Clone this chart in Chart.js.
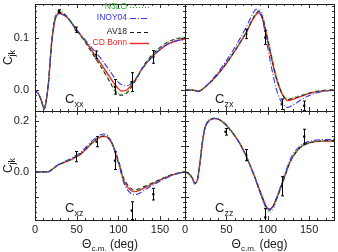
<!DOCTYPE html>
<html>
<head>
<meta charset="utf-8">
<script src="https://cdn.jsdelivr.net/npm/chart.js"></script>
<style>
  html, body { margin: 0; padding: 0; background: #fff; }
  #wrap { position: relative; width: 338px; height: 252px; }
  #wrap canvas { position: absolute; left: 0; top: 0; }
</style>
</head>
<body>
<div id="wrap">
  <canvas id="cxx" width="338" height="252"></canvas>
  <canvas id="czx" width="338" height="252"></canvas>
  <canvas id="cxz" width="338" height="252"></canvas>
  <canvas id="czz" width="338" height="252"></canvas>
</div>

<script>
  // theory curves, order: N3LO, INOY04, AV18, CD Bonn
  const models = ['N3LO', 'INOY04', 'AV18', 'CD Bonn'];

  // x tick labels (deg) and y tick labels
  const xTickLabels = [0, 50, 100, 150];
  const yTickLabelsTop = [0.0, 0.1];
  const yTickLabelsBottom = [0.0, 0.2];

  // ---- Cxx ----
  const angXX = [0, 5, 8, 11, 13, 16, 20, 24, 29, 34, 40, 50, 60, 70, 80, 90, 97, 104, 110, 118, 130, 140, 150, 160, 170, 180];
  const xxN3LO  = [0, -0.010, -0.022, -0.036, -0.024, 0.013, 0.094, 0.140, 0.152, 0.148, 0.138, 0.114, 0.092, 0.068, 0.043, 0.016, -0.002, -0.008, -0.004, 0.012, 0.044, 0.065, 0.080, 0.091, 0.098, 0.101];
  const xxINOY  = [0, -0.010, -0.022, -0.036, -0.025, 0.010, 0.088, 0.133, 0.145, 0.143, 0.136, 0.115, 0.096, 0.077, 0.058, 0.036, 0.020, 0.010, 0.008, 0.016, 0.043, 0.062, 0.077, 0.088, 0.094, 0.096];
  const xxAV18  = [0, -0.010, -0.022, -0.036, -0.024, 0.012, 0.092, 0.137, 0.148, 0.146, 0.137, 0.114, 0.092, 0.067, 0.042, 0.015, -0.004, -0.010, -0.006, 0.011, 0.045, 0.066, 0.081, 0.092, 0.098, 0.100];
  const xxBonn  = [0, -0.010, -0.022, -0.036, -0.025, 0.011, 0.090, 0.134, 0.146, 0.144, 0.136, 0.114, 0.094, 0.071, 0.048, 0.024, 0.008, -0.002, 0.000, 0.014, 0.044, 0.063, 0.077, 0.088, 0.094, 0.097];
  const expAngXX = [29, 49, 73, 96, 116, 142];
  const expValXX = [0.150, 0.115, 0.067, 0.006, 0.015, 0.063];
  const expErrXX = [0.003, 0.005, 0.0075, 0.014, 0.018, 0.012];

  // ---- Czx ----
  const angZX = [0, 8, 16, 26, 38, 50, 62, 74, 82, 86, 89, 92, 95, 98, 101, 104, 110, 114, 118, 124, 132, 142, 154, 166, 180];
  const zxN3LO  = [0, 0, -0.002, 0.008, 0.027, 0.051, 0.079, 0.111, 0.137, 0.148, 0.153, 0.150, 0.137, 0.116, 0.094, 0.071, 0.030, 0.010, -0.006, -0.016, -0.014, -0.009, -0.004, -0.001, 0];
  const zxINOY  = [0, 0, -0.003, 0.009, 0.030, 0.056, 0.086, 0.120, 0.146, 0.154, 0.153, 0.142, 0.124, 0.098, 0.072, 0.047, 0.004, -0.015, -0.026, -0.033, -0.027, -0.017, -0.008, -0.003, 0];
  const zxAV18  = [0, 0, -0.002, 0.008, 0.027, 0.051, 0.079, 0.110, 0.136, 0.146, 0.150, 0.146, 0.132, 0.111, 0.089, 0.067, 0.026, 0.006, -0.009, -0.018, -0.015, -0.010, -0.004, -0.001, 0];
  const zxBonn  = [0, 0, -0.002, 0.008, 0.027, 0.051, 0.079, 0.110, 0.135, 0.144, 0.147, 0.143, 0.128, 0.107, 0.086, 0.064, 0.024, 0.005, -0.010, -0.020, -0.017, -0.011, -0.005, -0.002, 0];
  const expAngZX = [74, 97, 117, 144];
  const expValZX = [0.107, 0.100, -0.027, -0.030];
  const expErrZX = [0.009, 0.013, 0.010, 0.009];

  // ---- Cxz ----
  const angXZ = [0, 10, 16, 22, 28, 35, 42, 50, 56, 62, 68, 74, 78, 82, 86, 90, 94, 98, 102, 106, 110, 114, 118, 122, 126, 132, 138, 146, 154, 162, 170, 180];
  const xzN3LO  = [0, 0, 0, 0.013, 0.027, 0.037, 0.047, 0.061, 0.074, 0.093, 0.113, 0.130, 0.138, 0.142, 0.140, 0.127, 0.103, 0.065, 0.022, -0.027, -0.053, -0.069, -0.077, -0.076, -0.071, -0.061, -0.051, -0.038, -0.025, -0.014, -0.006, 0];
  const xzINOY  = [0, 0, 0, 0.014, 0.029, 0.040, 0.051, 0.066, 0.080, 0.100, 0.120, 0.137, 0.145, 0.149, 0.146, 0.130, 0.101, 0.058, 0.012, -0.038, -0.066, -0.082, -0.090, -0.089, -0.083, -0.071, -0.059, -0.044, -0.030, -0.018, -0.008, 0];
  const xzAV18  = [0, 0, 0, 0.014, 0.028, 0.038, 0.048, 0.062, 0.075, 0.094, 0.114, 0.130, 0.138, 0.141, 0.139, 0.126, 0.102, 0.065, 0.024, -0.022, -0.046, -0.062, -0.070, -0.070, -0.066, -0.057, -0.048, -0.036, -0.024, -0.014, -0.006, 0];
  const xzBonn  = [0, 0, 0, 0.013, 0.027, 0.037, 0.046, 0.060, 0.073, 0.092, 0.112, 0.128, 0.136, 0.140, 0.138, 0.124, 0.099, 0.060, 0.018, -0.030, -0.055, -0.070, -0.078, -0.077, -0.072, -0.062, -0.052, -0.039, -0.026, -0.015, -0.007, 0];
  const expAngXZ = [49, 74, 96, 116, 142];
  const expValXZ = [0.060, 0.119, 0.044, -0.153, -0.088];
  const expErrXZ = [0.020, 0.020, 0.035, 0.035, 0.023];

  // ---- Czz ----
  const angZZ = [0, 5, 9, 12, 15, 18, 21, 24, 28, 32, 36, 42, 48, 54, 60, 66, 72, 78, 84, 90, 94, 98, 102, 106, 110, 114, 118, 122, 126, 130, 136, 142, 150, 158, 166, 180];
  const zzN3LO  = [0, -0.008, -0.025, -0.045, -0.028, 0.040, 0.120, 0.176, 0.201, 0.210, 0.212, 0.206, 0.191, 0.169, 0.143, 0.112, 0.074, 0.030, -0.020, -0.078, -0.115, -0.148, -0.160, -0.150, -0.118, -0.080, -0.042, -0.004, 0.031, 0.058, 0.086, 0.104, 0.115, 0.120, 0.121, 0.122];
  const zzINOY  = [0, -0.009, -0.028, -0.050, -0.034, 0.030, 0.112, 0.170, 0.198, 0.209, 0.211, 0.206, 0.192, 0.170, 0.144, 0.113, 0.075, 0.030, -0.020, -0.076, -0.110, -0.140, -0.148, -0.136, -0.106, -0.071, -0.033, 0.005, 0.040, 0.067, 0.093, 0.110, 0.120, 0.125, 0.127, 0.128];
  const zzAV18  = [0, -0.008, -0.026, -0.046, -0.030, 0.036, 0.116, 0.173, 0.199, 0.209, 0.211, 0.205, 0.190, 0.168, 0.143, 0.113, 0.075, 0.030, -0.018, -0.073, -0.108, -0.140, -0.151, -0.141, -0.112, -0.078, -0.041, -0.004, 0.031, 0.058, 0.085, 0.103, 0.114, 0.120, 0.122, 0.123];
  const zzBonn  = [0, -0.008, -0.025, -0.045, -0.030, 0.035, 0.115, 0.172, 0.198, 0.208, 0.210, 0.205, 0.190, 0.168, 0.143, 0.113, 0.076, 0.030, -0.017, -0.070, -0.104, -0.136, -0.147, -0.138, -0.110, -0.077, -0.040, -0.003, 0.032, 0.058, 0.085, 0.103, 0.114, 0.119, 0.121, 0.122];
  const expAngZZ = [49, 74, 97, 117, 144];
  const expValZZ = [0.158, 0.066, -0.180, -0.057, 0.139];
  const expErrZZ = [0.013, 0.022, 0.035, 0.038, 0.029];

  // styles
  const lineColors = ['#2db02d', '#3434ee', '#1a1a1a', '#f02424'];
  const lineDash = [[1, 2], [6, 2, 1, 2], [4, 3], []];
  const lineWidth = [1.1, 1.1, 1.1, 1.4];
  const font = '"Liberation Sans", Arial, sans-serif';

  function drawSub(ctx, main, sub, x, y, size, align) {
    ctx.font = size + 'px ' + font;
    const w1 = ctx.measureText(main).width;
    ctx.font = Math.round(size * 0.72) + 'px ' + font;
    const w2 = ctx.measureText(sub).width;
    let x0 = x;
    if (align === 'center') x0 = x - (w1 + w2) / 2;
    ctx.textAlign = 'left';
    ctx.textBaseline = 'alphabetic';
    ctx.font = size + 'px ' + font;
    ctx.fillText(main, x0, y);
    ctx.font = Math.round(size * 0.72) + 'px ' + font;
    ctx.fillText(sub, x0 + w1, y + size * 0.28);
    return x0 + w1 + w2;
  }

  function panelPlugin(p) {
    return {
      id: 'panel_' + p.name,
      afterDatasetsDraw(chart) {
        const { ctx, chartArea: a, scales: { x, y } } = chart;
        ctx.save();
        ctx.beginPath();
        ctx.rect(a.left, a.top, a.right - a.left, a.bottom - a.top);
        ctx.clip();
        ctx.strokeStyle = '#000';
        ctx.lineWidth = 1;
        ctx.beginPath();
        p.expAng.forEach((ang, i) => {
          const px = Math.round(x.getPixelForValue(ang)) + 0.5;
          const y1 = y.getPixelForValue(p.expVal[i] + p.expErr[i]);
          const y2 = y.getPixelForValue(p.expVal[i] - p.expErr[i]);
          ctx.moveTo(px, y1); ctx.lineTo(px, y2);
          ctx.moveTo(px - 1.5, y1); ctx.lineTo(px + 1.5, y1);
          ctx.moveTo(px - 1.5, y2); ctx.lineTo(px + 1.5, y2);
        });
        ctx.stroke();
        ctx.restore();
      },
      afterDraw(chart) {
        const { ctx, chartArea: a, scales: { x, y } } = chart;
        ctx.save();
        ctx.strokeStyle = '#333';
        ctx.lineWidth = 1;
        ctx.beginPath();
        for (let v = 0; v <= 180; v += 10) {
          const px = Math.round(x.getPixelForValue(v)) + 0.5;
          const len = v % 50 === 0 ? 4 : 2;
          ctx.moveTo(px, a.bottom); ctx.lineTo(px, a.bottom - len);
          ctx.moveTo(px, a.top); ctx.lineTo(px, a.top + len);
        }
        const k0 = Math.ceil(p.yMin / p.yMinor - 1e-6);
        const k1 = Math.floor(p.yMax / p.yMinor + 1e-6);
        for (let k = k0; k <= k1; k++) {
          const v = k * p.yMinor;
          const py = Math.round(y.getPixelForValue(v)) + 0.5;
          const major = Math.abs(v / 0.1 - Math.round(v / 0.1)) < 1e-6;
          const len = major ? 4 : 2;
          ctx.moveTo(a.left, py); ctx.lineTo(a.left + len, py);
          ctx.moveTo(a.right, py); ctx.lineTo(a.right - len, py);
        }
        ctx.stroke();
        ctx.strokeStyle = '#222';
        ctx.strokeRect(a.left + 0.5, a.top + 0.5, a.right - a.left, a.bottom - a.top);

        ctx.fillStyle = '#222';
        // y tick labels and title on the left column
        if (p.yLabels) {
          ctx.font = '11px ' + font;
          ctx.textAlign = 'right';
          ctx.textBaseline = 'middle';
          p.yLabels.forEach(v => ctx.fillText(v.toFixed(1), 29, y.getPixelForValue(v)));
          ctx.save();
          ctx.translate(12, (a.top + a.bottom) / 2);
          ctx.rotate(-Math.PI / 2);
          drawSub(ctx, 'C', 'jk', 0, 0, 12, 'center');
          ctx.restore();
        }
        // x tick labels and title on the bottom row
        if (p.xLabels) {
          ctx.font = '11px ' + font;
          ctx.textAlign = 'center';
          ctx.textBaseline = 'middle';
          p.xLabels.forEach(v => ctx.fillText(String(v), x.getPixelForValue(v), 230));
          const cx = (a.left + a.right) / 2;
          ctx.font = '12px ' + font;
          const wT = ctx.measureText('\u0398').width;
          const wR = ctx.measureText(' (deg)').width;
          ctx.font = '8px ' + font;
          const wS = ctx.measureText('c.m.').width;
          let x0 = cx - (wT + wS + wR) / 2;
          ctx.textAlign = 'left';
          ctx.textBaseline = 'alphabetic';
          ctx.font = '12px ' + font;
          ctx.fillText('\u0398', x0, 248);
          ctx.font = '8px ' + font;
          ctx.fillText('c.m.', x0 + wT, 251);
          ctx.font = '12px ' + font;
          ctx.fillText(' (deg)', x0 + wT + wS, 248);
        }
        // panel label
        drawSub(ctx, 'C', p.sub, a.left + 30, a.bottom - 8, 13, 'left');

        // legend (top-left panel only)
        if (p.legend) {
          ctx.font = '8.5px ' + font;
          ctx.textAlign = 'right';
          ctx.textBaseline = 'middle';
          const rows = [6.5, 18, 32, 43];
          models.forEach((m, i) => {
            ctx.fillStyle = lineColors[i];
            ctx.fillText(m, 127, rows[i]);
            ctx.strokeStyle = lineColors[i];
            ctx.lineWidth = lineWidth[i];
            ctx.setLineDash(lineDash[i]);
            ctx.beginPath();
            ctx.moveTo(130, Math.round(rows[i]) + 0.5);
            ctx.lineTo(149, Math.round(rows[i]) + 0.5);
            ctx.stroke();
          });
          ctx.setLineDash([]);
        }
        ctx.restore();
      }
    };
  }

  function makePanel(id, p) {
    const datasets = p.curves.map((vals, m) => ({
      label: models[m],
      data: p.ang.map((ang, i) => ({ x: ang, y: vals[i] })),
      borderColor: lineColors[m],
      borderWidth: lineWidth[m],
      borderDash: lineDash[m],
      pointRadius: 0,
      cubicInterpolationMode: 'monotone',
      fill: false,
      clip: 0
    }));
    datasets.push({
      label: 'data',
      data: p.expAng.map((ang, i) => ({ x: ang, y: p.expVal[i] })),
      showLine: false,
      pointStyle: 'rect',
      pointRadius: 1.6,
      backgroundColor: '#000',
      borderColor: '#000',
      borderWidth: 0,
      clip: 0
    });
    new Chart(document.getElementById(id), {
      type: 'line',
      data: { datasets },
      options: {
        responsive: false,
        animation: false,
        devicePixelRatio: 1,
        events: [],
        layout: { padding: { left: p.box[0], top: p.box[1], right: 338 - p.box[2], bottom: 252 - p.box[3] } },
        scales: {
          x: { type: 'linear', min: 0, max: 180, display: false },
          y: { type: 'linear', min: p.yMin, max: p.yMax, display: false }
        },
        plugins: { legend: { display: false }, tooltip: { enabled: false } }
      },
      plugins: [panelPlugin(p)]
    });
  }

  makePanel('cxx', {
    name: 'xx', sub: 'xx', box: [35, 1, 185, 111], yMin: -0.04, yMax: 0.164, yMinor: 0.01,
    ang: angXX, curves: [xxN3LO, xxINOY, xxAV18, xxBonn],
    expAng: expAngXX, expVal: expValXX, expErr: expErrXX,
    yLabels: yTickLabelsTop, legend: true
  });
  makePanel('czx', {
    name: 'zx', sub: 'zx', box: [185, 1, 335, 111], yMin: -0.04, yMax: 0.164, yMinor: 0.01,
    ang: angZX, curves: [zxN3LO, zxINOY, zxAV18, zxBonn],
    expAng: expAngZX, expVal: expValZX, expErr: expErrZX
  });
  makePanel('cxz', {
    name: 'xz', sub: 'xz', box: [35, 111, 185, 220], yMin: -0.19, yMax: 0.24, yMinor: 0.02,
    ang: angXZ, curves: [xzN3LO, xzINOY, xzAV18, xzBonn],
    expAng: expAngXZ, expVal: expValXZ, expErr: expErrXZ,
    yLabels: yTickLabelsBottom, xLabels: xTickLabels
  });
  makePanel('czz', {
    name: 'zz', sub: 'zz', box: [185, 111, 335, 220], yMin: -0.19, yMax: 0.24, yMinor: 0.02,
    ang: angZZ, curves: [zzN3LO, zzINOY, zzAV18, zzBonn],
    expAng: expAngZZ, expVal: expValZZ, expErr: expErrZZ,
    xLabels: xTickLabels
  });
</script>
</body>
</html>
